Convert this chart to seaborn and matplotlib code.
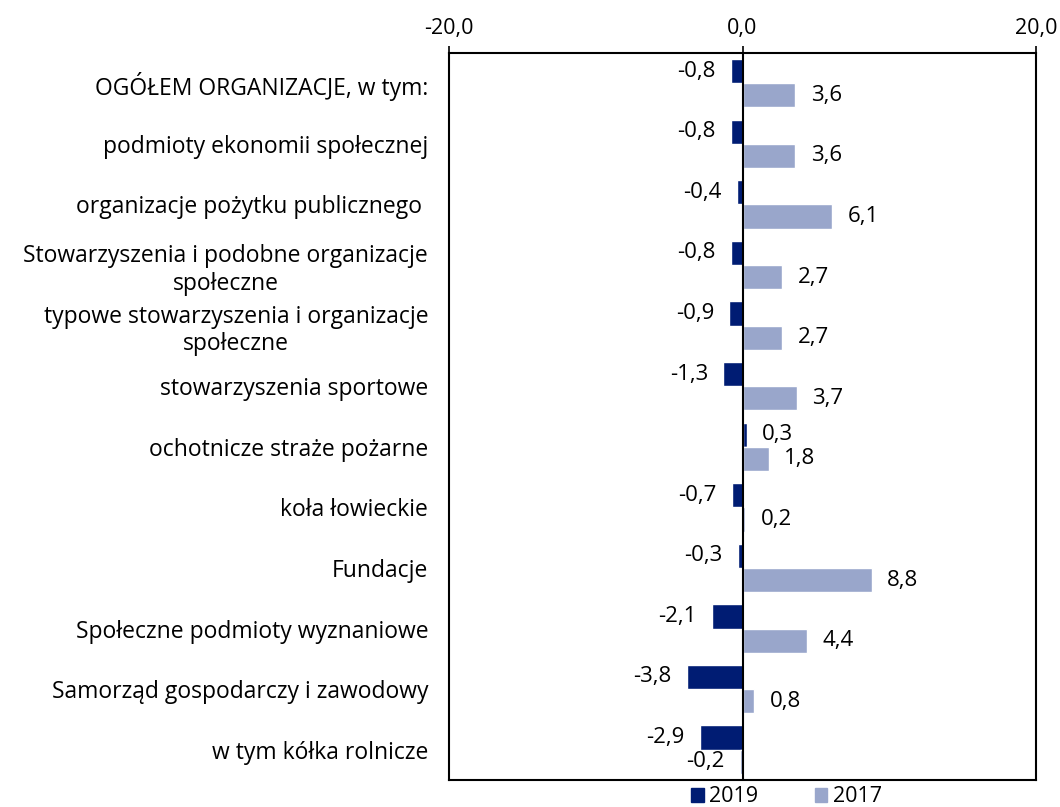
import matplotlib
matplotlib.use("Agg")
import matplotlib.pyplot as plt
import matplotlib.patches as mpatches
import pandas as pd
import seaborn as sns

kategorie = [
    "OGÓŁEM ORGANIZACJE, w tym:",
    "podmioty ekonomii społecznej",
    "organizacje pożytku publicznego ",
    "Stowarzyszenia i podobne organizacje\nspołeczne",
    "typowe stowarzyszenia i organizacje\nspołeczne",
    "stowarzyszenia sportowe",
    "ochotnicze straże pożarne",
    "koła łowieckie",
    "Fundacje",
    "Społeczne podmioty wyznaniowe",
    "Samorząd gospodarczy i zawodowy",
    "w tym kółka rolnicze",
]
wart_2019 = [-0.8, -0.8, -0.4, -0.8, -0.9, -1.3, 0.3, -0.7, -0.3, -2.1, -3.8, -2.9]
wart_2017 = [3.6, 3.6, 6.1, 2.7, 2.7, 3.7, 1.8, 0.2, 8.8, 4.4, 0.8, -0.2]
lata = ["2019", "2017"]
kolory = {"2019": "#001c73", "2017": "#99a6cb"}
x_ticks = [-20, 0, 20]

df = pd.concat([
    pd.DataFrame({"kategoria": kategorie, "wartosc": wart_2019, "rok": "2019"}),
    pd.DataFrame({"kategoria": kategorie, "wartosc": wart_2017, "rok": "2017"}),
])

sns.set_style("white")
plt.rcParams["font.family"] = ["Open Sans", "DejaVu Sans"]
plt.rcParams["text.color"] = "black"
plt.rcParams["xtick.color"] = "black"
plt.rcParams["ytick.color"] = "black"


def fmt_pl(v):
    return f"{v:.1f}".replace(".", ",")


fig = plt.figure(figsize=(10.6, 8.07), dpi=100)
ax = fig.add_axes([0.4236, 0.0335, 0.5538, 0.9009])

sns.barplot(data=df, y="kategoria", x="wartosc", hue="rok", hue_order=lata,
            order=kategorie, palette=kolory, orient="h", width=0.8,
            saturation=1, ax=ax, legend=False)

for cont in ax.containers:
    ax.bar_label(cont, labels=[fmt_pl(v) for v in cont.datavalues],
                 padding=11, fontsize=16, color="black")

ax.axvline(0, color="black", lw=1.5, zorder=3)
ax.set_xlim(-20, 20)
ax.set_xticks(x_ticks)
ax.set_xticklabels([fmt_pl(t) for t in x_ticks])
ax.xaxis.tick_top()
ax.tick_params(axis="x", direction="out", length=5, width=1.2, labelsize=15.5, pad=5)
ax.tick_params(axis="y", length=0, labelsize=16.5, pad=15)
for lab in ax.get_yticklabels():
    lab.set_multialignment("center")
for s in ax.spines.values():
    s.set_color("black")
    s.set_linewidth(1.5)
ax.set_xlabel("")
ax.set_ylabel("")

uchwyty = [mpatches.Patch(color=kolory[r], label=r) for r in lata]
fig.legend(handles=uchwyty, loc="center", bbox_to_anchor=(0.742, 0.0124), ncol=2,
           frameon=False, fontsize=15.5, handlelength=0.6, handleheight=0.6,
           handletextpad=0.25, columnspacing=2.6, borderpad=0)

fig.savefig("out.png", dpi=100)
